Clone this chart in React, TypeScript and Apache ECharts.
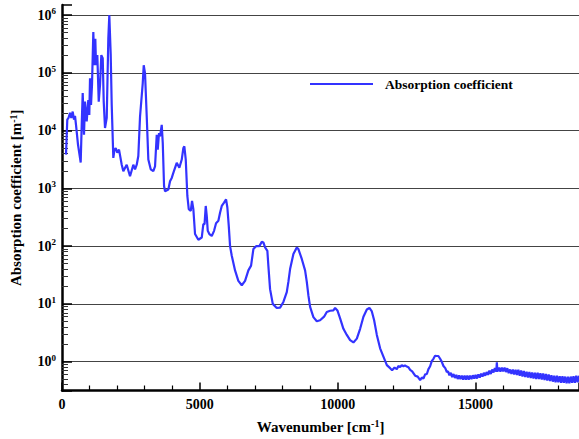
import React, { useEffect, useRef } from "react";
import * as echarts from "echarts";

const wavenumbers: number[] = [
  145, 192, 236, 290, 337, 388, 435, 472, 508, 580, 678, 715, 751, 798, 834, 896, 954, 990, 1016, 1052,
  1088, 1136, 1172, 1208, 1234, 1281, 1332, 1379, 1426, 1477, 1513, 1560, 1622, 1680, 1716, 1767, 1803, 1861, 1905, 1948,
  2006, 2068, 2166, 2224, 2347, 2467, 2587, 2649, 2710, 2768, 2830, 2928, 2964, 3011, 3073, 3131, 3218, 3312, 3374, 3436,
  3472, 3519, 3556, 3617, 3654, 3701, 3737, 3857, 3918, 3980, 4038, 4161, 4256, 4343, 4401, 4437, 4488, 4546, 4597, 4669,
  4716, 4764, 4825, 4945, 5068, 5126, 5170, 5213, 5250, 5286, 5344, 5431, 5515, 5587, 5671, 5732, 5794, 5877, 5950, 5997,
  6048, 6095, 6157, 6276, 6396, 6520, 6639, 6759, 6857, 6941, 7039, 7159, 7246, 7303, 7365, 7448, 7484, 7546, 7644, 7789,
  7909, 8029, 8152, 8210, 8272, 8392, 8515, 8573, 8696, 8816, 8878, 8936, 8998, 9117, 9241, 9360, 9505, 9603, 9723, 9843,
  9905, 9988, 10086, 10206, 10329, 10449, 10569, 10692, 10812, 10932, 11055, 11149, 11237, 11320, 11418, 11537, 11657, 11781, 11900, 11972,
  12060, 12143, 12200, 12263, 12320, 12383, 12440, 12506, 12560, 12626, 12700, 12807, 12900, 12988, 13050, 13108, 13170, 13232, 13290, 13351,
  13410, 13471, 13530, 13592, 13650, 13714, 13770, 13834, 13900, 13957,
  14000, 14050, 14100, 14150, 14200, 14250, 14300, 14350, 14400, 14450, 14500, 14550, 14600, 14650, 14700, 14750, 14800, 14850, 14900, 14950,
  15000, 15050, 15100, 15150, 15200, 15250, 15300, 15350, 15400, 15450, 15500, 15550, 15600, 15650, 15700, 15750, 15771, 15790, 15850, 15900,
  15950, 16000, 16050, 16100, 16150, 16200, 16250, 16300, 16350, 16400, 16450, 16500, 16550, 16600, 16650, 16700, 16750, 16800, 16850, 16900,
  16950, 17000, 17050, 17100, 17150, 17200, 17250, 17300, 17350, 17400, 17450, 17500, 17550, 17600, 17650, 17700, 17750, 17800, 17850, 17900,
  17950, 18000, 18050, 18100, 18150, 18200, 18250, 18300, 18350, 18400, 18450, 18500, 18550, 18600, 18650, 18700, 18750,
];

const absorption: number[] = [
  3850, 15500, 16600, 20400, 16600, 21400, 15500, 18100, 12600, 5750, 2800, 12600, 44600, 8500, 31800, 14400, 34000, 18700, 80400, 28000,
  61700, 510000, 136000, 390000, 136000, 203000, 31800, 61700, 203000, 180000, 31800, 11100, 16600, 398000, 1000000, 203000, 28000, 3380, 4690, 5000,
  4170, 4690, 2570, 1990, 2570, 1620, 2570, 2140, 2570, 3630, 17600, 66000, 136000, 98000, 17600, 3160, 2140, 1990, 2400, 8500,
  4690, 9100, 7940, 12600, 6150, 1100, 890, 955, 1330, 1520, 1860, 2770, 2280, 3160, 5000, 5340, 3160, 740, 436, 407,
  605, 436, 162, 129, 141, 240, 240, 496, 334, 184, 162, 150, 184, 250, 275, 380, 496, 566, 645, 466,
  224, 100, 68, 38, 25, 21, 25, 38, 46, 89, 100, 100, 119, 116, 95, 83, 46, 18, 10, 8.5,
  8.6, 10.8, 16, 24, 40, 73, 95, 89, 60, 38, 24, 14, 8.9, 5.9, 5.0, 5.2, 6.0, 7.25, 7.6, 7.7,
  8.5, 7.7, 5.6, 3.7, 2.9, 2.35, 2.15, 2.5, 3.7, 6.0, 8.0, 8.5, 7.4, 5.2, 2.9, 1.7, 1.22, 0.87, 0.77, 0.71,
  0.79, 0.74, 0.84, 0.8, 0.87, 0.83, 0.86, 0.82, 0.8, 0.72, 0.68, 0.57, 0.55, 0.48, 0.53, 0.51, 0.6, 0.61, 0.74, 0.83,
  1.02, 1.12, 1.26, 1.25, 1.25, 1.12, 1.0, 0.84, 0.77, 0.66,
  0.68, 0.58, 0.64, 0.54, 0.61, 0.52, 0.59, 0.5, 0.58, 0.5, 0.57, 0.49, 0.57, 0.49, 0.57, 0.49, 0.57, 0.5, 0.58, 0.51,
  0.59, 0.51, 0.6, 0.53, 0.62, 0.55, 0.64, 0.57, 0.66, 0.59, 0.7, 0.61, 0.73, 0.65, 0.77, 0.67, 0.97, 0.67, 0.79, 0.67,
  0.79, 0.68, 0.79, 0.66, 0.77, 0.63, 0.73, 0.61, 0.73, 0.6, 0.72, 0.59, 0.72, 0.57, 0.7, 0.55, 0.69, 0.54, 0.67, 0.53,
  0.66, 0.52, 0.65, 0.51, 0.64, 0.5, 0.64, 0.5, 0.63, 0.49, 0.62, 0.48, 0.61, 0.47, 0.6, 0.46, 0.58, 0.45, 0.57, 0.44,
  0.57, 0.44, 0.56, 0.43, 0.56, 0.43, 0.55, 0.42, 0.55, 0.42, 0.55, 0.43, 0.56, 0.43, 0.57, 0.44, 0.57,
];

const xTickLabels: string[] = ["0", "5000", "10000", "15000"];
const seriesName = "Absorption coefficient";
const xAxisTitle = ["Wavenumber [cm", "-1", "]"];
const yAxisTitle = ["Absorption coefficient [m", "-1", "]"];

const serif = "'Liberation Serif', 'DejaVu Serif', serif";

export default function App() {
  const ref = useRef<HTMLDivElement>(null);
  useEffect(() => {
    if (!ref.current) return;
    const chart = echarts.init(ref.current, null, { renderer: "svg" });
    const data = wavenumbers.map((w, i) => [w, absorption[i]]);
    chart.setOption({
      animation: false,
      backgroundColor: "#ffffff",
      grid: { left: 62, right: 0, top: 5, bottom: 47, containLabel: false },
      legend: {
        left: 305,
        top: 72,
        icon: "rect",
        itemWidth: 63,
        itemHeight: 2,
        data: [seriesName],
        textStyle: {
          fontFamily: serif,
          fontWeight: "bold",
          fontSize: 13.5,
          color: "#000",
          padding: [0, 0, 0, 7],
        },
      },
      xAxis: {
        type: "value",
        min: 0,
        max: 18750,
        interval: 5000,
        name: `{a|${xAxisTitle[0]}}{s|${xAxisTitle[1]}}{a|${xAxisTitle[2]}}`,
        nameLocation: "middle",
        nameGap: 28,
        nameTextStyle: {
          rich: {
            a: { fontFamily: serif, fontWeight: "bold", fontSize: 15, color: "#000" },
            s: { fontFamily: serif, fontWeight: "bold", fontSize: 10, color: "#000", padding: [0, 0, 6, 0] },
          },
        },
        axisLine: { show: true, lineStyle: { color: "#000", width: 2.5 } },
        axisTick: { show: true, inside: true, length: 8, lineStyle: { color: "#000", width: 1.5 } },
        minorTick: { show: true, splitNumber: 5, length: 5, lineStyle: { color: "#000", width: 1.2 } },
        splitLine: { show: false },
        axisLabel: {
          showMaxLabel: false,
          margin: 7,
          fontFamily: serif,
          fontWeight: "bold",
          fontSize: 14,
          color: "#000",
          formatter: (v: number) => {
            const idx = Math.round(v / 5000);
            return xTickLabels[idx] ?? "";
          },
        },
      },
      yAxis: {
        type: "log",
        logBase: 10,
        min: 0.316,
        max: 1.5e6,
        name: `{a|${yAxisTitle[0]}}{s|${yAxisTitle[1]}}{a|${yAxisTitle[2]}}`,
        nameLocation: "middle",
        nameGap: 38,
        nameRotate: 90,
        nameTextStyle: {
          rich: {
            a: { fontFamily: serif, fontWeight: "bold", fontSize: 15, color: "#000" },
            s: { fontFamily: serif, fontWeight: "bold", fontSize: 10, color: "#000", padding: [0, 0, 6, 0] },
          },
        },
        axisLine: { show: true, lineStyle: { color: "#000", width: 2.5 } },
        axisTick: { show: true, inside: true, length: 10, lineStyle: { color: "#000", width: 1.5 } },
        minorTick: { show: true, splitNumber: 9, length: 6, lineStyle: { color: "#333", width: 1 } },
        splitLine: { show: true, showMinLine: false, showMaxLine: false, lineStyle: { color: "#444", width: 1 } },
        axisLabel: {
          showMinLabel: false,
          showMaxLabel: false,
          margin: 6,
          formatter: (v: number) => {
            const e = Math.round(Math.log10(v));
            return `{b|10}{s|${e}}`;
          },
          rich: {
            b: { fontFamily: serif, fontWeight: "bold", fontSize: 14, color: "#000" },
            s: { fontFamily: serif, fontWeight: "bold", fontSize: 9, color: "#000", padding: [0, 0, 8, 0] },
          },
        },
      },
      series: [
        {
          name: seriesName,
          type: "line",
          data,
          showSymbol: false,
          symbol: "none",
          color: "#3333ff",
          lineStyle: { color: "#3333ff", width: 2.2 },
        },
      ],
    });
    return () => chart.dispose();
  }, []);
  return <div ref={ref} style={{ width: 579, height: 439, position: "absolute", left: 0, top: 0 }} />;
}
